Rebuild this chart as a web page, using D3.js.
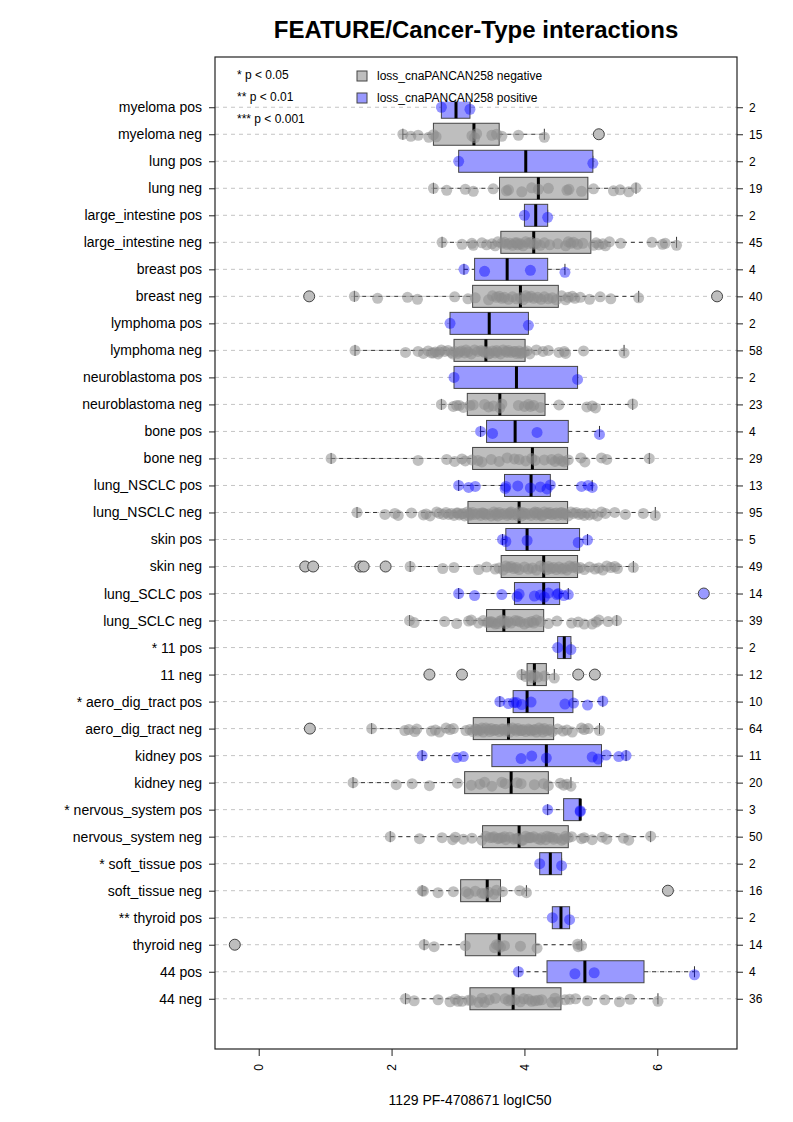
<!DOCTYPE html>
<html>
<head>
<meta charset="utf-8">
<script src="https://cdn.jsdelivr.net/npm/d3@7"></script>
<style>
  html, body { margin: 0; padding: 0; background: #fff; }
  svg { display: block; font-family: "Liberation Sans", Arial, Helvetica, sans-serif; }
</style>
</head>
<body>
<svg id="chart" width="793" height="1122"></svg>
<script>
// ---------------- DATA ----------------
const labels = [
  "myeloma pos", "myeloma neg", "lung pos", "lung neg",
  "large_intestine pos", "large_intestine neg", "breast pos", "breast neg",
  "lymphoma pos", "lymphoma neg", "neuroblastoma pos", "neuroblastoma neg",
  "bone pos", "bone neg", "lung_NSCLC pos", "lung_NSCLC neg",
  "skin pos", "skin neg", "lung_SCLC pos", "lung_SCLC neg",
  "* 11 pos", "11 neg", "* aero_dig_tract pos", "aero_dig_tract neg",
  "kidney pos", "kidney neg", "* nervous_system pos", "nervous_system neg",
  "* soft_tissue pos", "soft_tissue neg", "** thyroid pos", "thyroid neg",
  "44 pos", "44 neg"
];
const counts = [2,15,2,19,2,45,4,40,2,58,2,23,4,29,13,95,5,49,14,39,2,12,10,64,11,20,3,50,2,16,2,14,4,36];

const q1  = [2.75,2.63,3.01,3.625,4.00,3.645,3.25,3.22,2.88,2.94,2.94,3.14,3.43,3.22,3.70,3.15,3.72,3.65,3.85,3.43,4.50,4.04,3.83,3.23,3.51,3.10,4.59,3.37,4.23,3.04,4.42,3.11,4.34,3.18];
const med = [2.97,3.24,4.02,4.21,4.17,4.14,3.74,3.94,3.47,3.42,3.88,3.63,3.86,4.12,4.10,3.92,4.04,4.29,4.29,3.69,4.60,4.15,4.04,3.76,4.33,3.80,4.84,3.92,4.39,3.44,4.55,3.62,4.91,3.83];
const q3  = [3.18,3.62,5.03,4.955,4.35,5.00,4.35,4.51,4.06,4.01,4.80,4.31,4.66,4.65,4.39,4.65,4.83,4.80,4.53,4.29,4.70,4.33,4.73,4.44,5.16,4.36,4.84,4.66,4.56,3.64,4.68,4.17,5.80,4.55];
const wlo = [2.75,2.17,3.01,2.63,4.00,2.76,3.09,1.44,2.88,1.45,2.94,2.75,3.34,1.09,3.01,1.48,3.67,2.28,3.01,2.27,4.50,3.96,3.63,1.70,2.46,1.42,4.35,1.98,4.23,2.46,4.42,2.49,3.91,2.21];
const whi = [3.18,4.30,5.03,5.68,4.35,6.29,4.61,5.72,4.06,5.50,4.80,5.63,5.13,5.88,5.02,5.97,4.95,5.64,4.66,5.39,4.70,4.45,5.18,5.13,5.53,4.70,4.84,5.90,4.56,4.03,4.68,4.86,6.56,6.01];

const outliers = [
  [], [5.12], [], [], [], [], [], [0.76, 6.90],
  [], [], [], [], [], [], [], [],
  [], [0.70, 0.82, 1.53, 1.58, 1.91], [6.70], [],
  [], [2.57, 3.06, 4.81, 5.06], [], [0.77],
  [], [], [], [], [], [6.16], [], [-0.36],
  [], []
];

const points = [
  [2.75, 3.18],
  [2.17, 2.29, 2.40, 2.56, 2.63, 2.67, 3.21, 3.25, 3.28, 3.51, 3.58, 3.66, 3.91, 4.30],
  [3.01, 5.03],
  [2.63, 2.83, 3.11, 3.23, 3.53, 3.73, 3.76, 3.96, 4.11, 4.21, 4.36, 4.64, 4.67, 4.86, 5.04, 5.34, 5.44, 5.57, 5.68],
  [4.00, 4.35],
  [2.76, 3.06, 3.21, 3.23, 3.36, 3.43, 3.51, 3.56, 3.60, 3.66, 3.70, 3.74, 3.78, 3.82, 3.86, 3.90, 3.94, 3.98, 4.02, 4.06, 4.10, 4.14, 4.18, 4.24, 4.30, 4.38, 4.50, 4.62, 4.66, 4.70, 4.74, 4.80, 4.88, 5.04, 5.08, 5.12, 5.18, 5.22, 5.28, 5.45, 5.92, 6.08, 6.12, 6.29, 3.89],
  [3.09, 3.40, 4.09, 4.61],
  [1.44, 1.79, 2.24, 2.39, 2.95, 3.15, 3.26, 3.46, 3.52, 3.58, 3.62, 3.66, 3.70, 3.76, 3.82, 3.88, 3.94, 3.98, 4.02, 4.06, 4.10, 4.14, 4.20, 4.25, 4.30, 4.36, 4.42, 4.48, 4.56, 4.66, 4.72, 4.76, 4.84, 4.98, 5.14, 5.30, 5.72, 4.62],
  [2.88, 4.06],
  [1.45, 2.21, 2.40, 2.48, 2.55, 2.63, 2.66, 2.70, 2.75, 2.80, 2.85, 2.90, 2.95, 3.00, 3.05, 3.10, 3.15, 3.20, 3.25, 3.30, 3.35, 3.40, 3.44, 3.48, 3.52, 3.56, 3.60, 3.64, 3.68, 3.72, 3.76, 3.80, 3.84, 3.88, 3.92, 3.96, 4.00, 4.08, 4.18, 4.28, 4.36, 4.52, 4.60, 4.62, 4.89, 5.50, 2.72, 2.92, 3.12, 3.38, 3.58, 3.74, 3.86, 3.94, 4.04, 2.60, 3.02, 3.46],
  [2.94, 4.80],
  [2.75, 2.93, 2.98, 3.08, 3.23, 3.46, 3.53, 3.63, 3.66, 3.91, 4.06, 4.09, 4.14, 4.24, 4.52, 4.94, 5.02, 5.07, 5.63, 3.18, 3.40, 4.00, 3.02],
  [3.34, 3.52, 4.19, 5.13],
  [1.09, 2.40, 2.83, 2.95, 3.06, 3.11, 3.21, 3.36, 3.74, 3.92, 4.11, 4.16, 4.41, 4.46, 4.51, 4.56, 4.66, 4.91, 5.16, 5.24, 5.88, 3.30, 3.50, 3.62, 3.85, 4.02, 4.30, 4.60, 4.85],
  [3.01, 3.16, 3.26, 3.71, 3.90, 4.09, 4.24, 4.34, 4.39, 4.86, 4.96, 5.02, 3.72],
  [1.48, 1.90, 2.05, 2.10, 2.30, 2.48, 2.52, 2.58, 2.68, 2.72, 2.82, 2.86, 2.90, 2.94, 2.98, 3.02, 3.06, 3.10, 3.14, 3.18, 3.22, 3.26, 3.30, 3.34, 3.38, 3.42, 3.46, 3.50, 3.54, 3.58, 3.62, 3.66, 3.70, 3.74, 3.78, 3.82, 3.86, 3.90, 3.92, 3.94, 3.98, 4.02, 4.06, 4.10, 4.14, 4.18, 4.22, 4.26, 4.30, 4.34, 4.38, 4.42, 4.46, 4.50, 4.54, 4.58, 4.62, 4.66, 4.70, 4.74, 4.78, 4.82, 4.86, 4.90, 4.94, 4.98, 5.04, 5.10, 5.16, 5.22, 5.36, 5.52, 5.79, 5.97, 3.00, 3.20, 3.40, 3.60, 3.80, 4.00, 4.20, 4.40, 4.60, 3.16, 3.36, 3.56, 3.76, 3.96, 4.16, 4.36, 4.56, 2.78, 3.08, 4.28, 4.48],
  [3.67, 3.72, 4.04, 4.81, 4.95],
  [2.28, 2.77, 2.94, 3.31, 3.43, 3.56, 3.62, 3.68, 3.72, 3.76, 3.80, 3.84, 3.88, 3.92, 4.00, 4.06, 4.12, 4.18, 4.24, 4.30, 4.36, 4.40, 4.44, 4.48, 4.52, 4.56, 4.60, 4.64, 4.68, 4.72, 4.76, 4.80, 4.84, 4.90, 4.98, 5.06, 5.12, 5.18, 5.24, 5.30, 5.36, 5.40, 5.64, 4.34],
  [3.01, 3.25, 3.66, 3.89, 3.92, 4.15, 4.24, 4.30, 4.36, 4.49, 4.51, 4.59, 4.66],
  [2.27, 2.34, 2.80, 2.98, 3.16, 3.31, 3.46, 3.56, 3.66, 3.76, 3.86, 4.06, 4.11, 4.36, 4.49, 4.71, 4.81, 5.02, 5.12, 5.26, 5.39, 3.44, 3.50, 3.60, 3.70, 3.80, 3.94, 4.00, 4.18, 4.24, 3.38, 3.52, 3.62, 3.72, 3.90, 4.14, 5.08, 4.90, 3.20],
  [4.50, 4.70],
  [3.96, 4.02, 4.08, 4.12, 4.15, 4.20, 4.30, 4.45],
  [3.63, 3.76, 3.84, 3.96, 4.10, 4.61, 4.74, 4.95, 5.18, 3.88],
  [1.70, 2.20, 2.26, 2.35, 2.38, 2.60, 2.66, 2.72, 2.82, 2.88, 2.93, 3.12, 3.18, 3.22, 3.26, 3.30, 3.34, 3.38, 3.42, 3.46, 3.50, 3.54, 3.58, 3.62, 3.66, 3.70, 3.74, 3.78, 3.82, 3.86, 3.90, 3.94, 3.98, 4.02, 4.06, 4.10, 4.14, 4.18, 4.22, 4.26, 4.30, 4.34, 4.38, 4.42, 4.50, 4.58, 4.64, 4.72, 4.86, 4.90, 4.96, 5.13, 3.28, 3.48, 3.68, 3.88, 4.08, 4.28, 3.36, 3.56, 3.76, 3.96, 4.16],
  [2.46, 2.98, 3.08, 3.95, 4.11, 4.33, 5.02, 5.11, 5.23, 5.42, 5.53],
  [1.42, 2.07, 2.31, 2.57, 2.99, 3.20, 3.33, 3.51, 3.66, 3.71, 3.89, 4.15, 4.29, 4.36, 4.54, 4.59, 4.64, 4.70, 3.40, 3.95],
  [4.35, 4.84, 4.84],
  [1.98, 2.42, 2.76, 2.92, 2.96, 3.08, 3.21, 3.36, 3.42, 3.48, 3.54, 3.60, 3.66, 3.72, 3.78, 3.84, 3.90, 3.96, 4.02, 4.08, 4.14, 4.20, 4.26, 4.32, 4.38, 4.44, 4.50, 4.56, 4.62, 4.66, 4.71, 4.86, 4.90, 5.02, 5.17, 5.24, 5.49, 5.57, 5.90, 3.52, 3.70, 3.88, 4.06, 4.24, 4.42, 4.60, 3.62, 3.98, 4.34, 4.10],
  [4.23, 4.56],
  [2.46, 2.70, 2.93, 3.16, 3.26, 3.36, 3.46, 3.54, 3.58, 3.67, 3.93, 4.03, 3.12, 3.40, 2.48],
  [4.42, 4.68],
  [2.49, 2.64, 3.11, 3.55, 3.61, 3.64, 3.94, 4.19, 4.80, 4.86, 3.58, 4.81, 3.70],
  [3.91, 4.76, 5.05, 6.56],
  [2.21, 2.34, 2.70, 2.88, 2.96, 3.06, 3.16, 3.31, 3.36, 3.47, 3.71, 3.76, 3.86, 3.94, 4.06, 4.11, 4.21, 4.41, 4.46, 4.61, 4.77, 4.95, 5.21, 5.43, 5.59, 6.01, 3.20, 3.40, 3.56, 3.80, 3.99, 4.16, 4.26, 4.50, 4.68, 3.00]
];

const xTicks = [0, 2, 4, 6];
const legendSig = ["* p < 0.05", "** p < 0.01", "*** p < 0.001"];
const legendGroups = ["loss_cnaPANCAN258 negative", "loss_cnaPANCAN258 positive"];
const title = "FEATURE/Cancer-Type interactions";
const xTitle = "1129 PF-4708671 logIC50";

// ---------------- LAYOUT ----------------
const plot = { left: 215, right: 737, top: 57, bottom: 1049 };
const svg = d3.select("#chart");
const FONT = "Liberation Sans, Arial, sans-serif";

const x = d3.scaleLinear().domain([-0.658, 7.20]).range([plot.left, plot.right]);
const y = d3.scaleLinear().domain([-1.86, labels.length - 1 + 1.86]).range([plot.top, plot.bottom]);

const isPos = i => labels[i].endsWith("pos");
const boxFill = i => isPos(i) ? "#9999ff" : "#bebebe";
const ptFill = i => isPos(i) ? "rgba(0,0,255,0.42)" : "rgba(140,140,140,0.55)";
const halfH = 11;
const jit = [0, 2, 1, 3, 0.5, 2.5, 1.5, 3.5, -0.5, 1];

svg.append("defs").append("clipPath").attr("id", "pc")
  .append("rect").attr("x", plot.left).attr("y", plot.top)
  .attr("width", plot.right - plot.left).attr("height", plot.bottom - plot.top);

const g = svg.append("g").attr("clip-path", "url(#pc)");

// grid
g.selectAll("line.grid").data(labels).join("line")
  .attr("x1", plot.left).attr("x2", plot.right)
  .attr("y1", (d, i) => y(i)).attr("y2", (d, i) => y(i))
  .attr("stroke", "#c4c4c4").attr("stroke-width", 1).attr("stroke-dasharray", "4,4");

// boxes
labels.forEach((lab, i) => {
  const cy = y(i);
  const bg = g.append("g");
  [[wlo[i], q1[i]], [q3[i], whi[i]]].forEach(([a, b]) => {
    if (Math.abs(b - a) > 1e-9) {
      bg.append("line").attr("x1", x(a)).attr("x2", x(b)).attr("y1", cy).attr("y2", cy)
        .attr("stroke", "#333").attr("stroke-width", 1).attr("stroke-dasharray", "4,4");
    }
  });
  [wlo[i], whi[i]].forEach(v => {
    bg.append("line").attr("x1", x(v)).attr("x2", x(v)).attr("y1", cy - 5.5).attr("y2", cy + 5.5)
      .attr("stroke", "#333").attr("stroke-width", 1);
  });
  bg.append("rect").attr("x", x(q1[i])).attr("y", cy - halfH)
    .attr("width", x(q3[i]) - x(q1[i])).attr("height", 2 * halfH)
    .attr("fill", boxFill(i)).attr("stroke", "#444").attr("stroke-width", 1);
  bg.append("line").attr("x1", x(med[i])).attr("x2", x(med[i]))
    .attr("y1", cy - halfH).attr("y2", cy + halfH)
    .attr("stroke", "#000").attr("stroke-width", 3);
  bg.selectAll("circle.out").data(outliers[i]).join("circle")
    .attr("cx", d => x(d)).attr("cy", cy).attr("r", 5.5)
    .attr("fill", boxFill(i)).attr("stroke", "#444").attr("stroke-width", 1);
});

// points
labels.forEach((lab, i) => {
  g.append("g").selectAll("circle").data(points[i]).join("circle")
    .attr("cx", d => x(d)).attr("cy", (d, j) => y(i) + jit[j % jit.length])
    .attr("r", 5.5).attr("fill", ptFill(i));
});

// legends
svg.append("rect").attr("x", 348).attr("y", plot.top + 1).attr("width", 210).attr("height", 101.6 - plot.top - 1)
  .attr("fill", "#fff");
svg.selectAll("text.sig").data(legendSig).join("text")
  .attr("x", 237).attr("y", (d, i) => 79 + i * 22)
  .attr("font-size", 12).attr("fill", "#000").text(d => d);
legendGroups.forEach((t, i) => {
  const cy = 76 + i * 22;
  svg.append("rect").attr("x", 357).attr("y", cy - 5).attr("width", 10).attr("height", 10)
    .attr("fill", i === 0 ? "#bebebe" : "#9999ff").attr("stroke", "#444");
  svg.append("text").attr("x", 377).attr("y", cy + 4).attr("font-size", 12).text(t);
});

// frame
svg.append("rect").attr("x", plot.left).attr("y", plot.top)
  .attr("width", plot.right - plot.left).attr("height", plot.bottom - plot.top)
  .attr("fill", "none").attr("stroke", "#222").attr("stroke-width", 1.2);

// x axis
const xa = svg.append("g").attr("transform", `translate(0,${plot.bottom})`)
  .call(d3.axisBottom(x).tickValues(xTicks).tickSize(7).tickFormat(d3.format("d")));
xa.select(".domain").remove();
xa.selectAll(".tick line").attr("stroke", "#222");
xa.selectAll(".tick text")
  .attr("font-family", FONT).attr("font-size", 12).attr("fill", "#000")
  .attr("transform", "translate(0,15) rotate(-90)")
  .attr("text-anchor", "end").attr("dx", 0).attr("dy", "0.35em").attr("x", 0).attr("y", 0);

svg.append("text").attr("x", 470).attr("y", 1105).attr("text-anchor", "middle")
  .attr("font-size", 14).text(xTitle);

// y axis left
const ya = svg.append("g").attr("transform", `translate(${plot.left},0)`)
  .call(d3.axisLeft(y).tickValues(d3.range(labels.length)).tickSize(6).tickFormat(i => labels[i]));
ya.select(".domain").remove();
ya.selectAll(".tick line").attr("stroke", "#222");
ya.selectAll(".tick text").attr("font-family", FONT)
  .attr("font-size", 14).attr("fill", "#000").attr("x", -13);

// y axis right (counts)
const yr = svg.append("g").attr("transform", `translate(${plot.right},0)`)
  .call(d3.axisRight(y).tickValues(d3.range(labels.length)).tickSize(6).tickFormat(i => counts[i]));
yr.select(".domain").remove();
yr.selectAll(".tick line").attr("stroke", "#222");
yr.selectAll(".tick text").attr("font-family", FONT)
  .attr("font-size", 12).attr("fill", "#000").attr("x", 12);

// title
svg.append("text").attr("x", 476).attr("y", 38).attr("text-anchor", "middle")
  .attr("font-size", 24).attr("font-weight", "bold").text(title);
</script>
</body>
</html>
